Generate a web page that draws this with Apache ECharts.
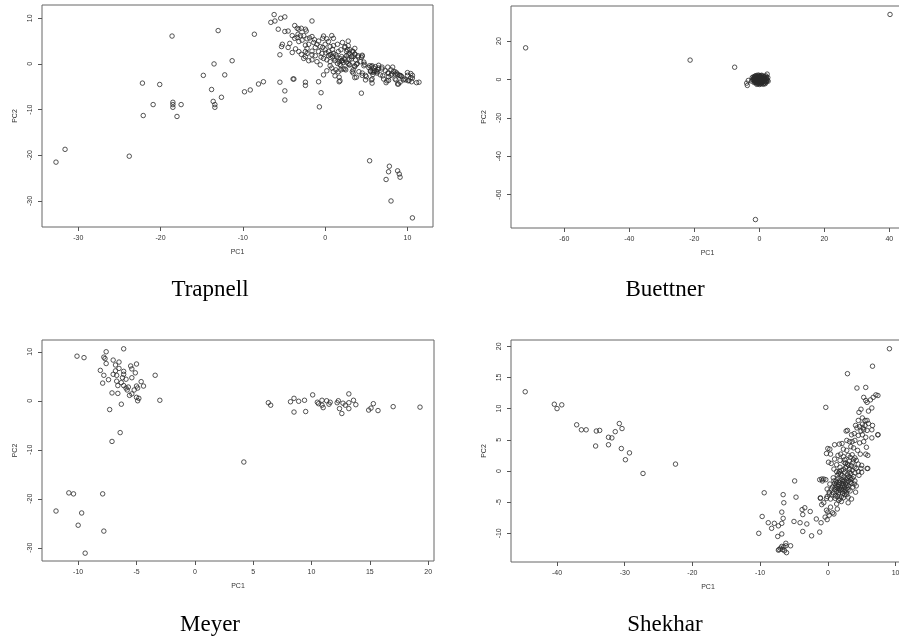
<!DOCTYPE html>
<html>
<head>
<meta charset="utf-8">
<title>PCA of four datasets</title>
<script src="https://cdn.jsdelivr.net/npm/echarts@6/dist/echarts.min.js"></script>
<style>
  html, body { margin: 0; padding: 0; background: #fff; }
  #chart { width: 899px; height: 640px; }
</style>
</head>
<body>
<div id="chart"></div>
<script>
// PC1 / PC2 pairs, one array per dataset
const trapnell = [
  [-32.7,-21.5],[-31.6,-18.7],[-23.8,-20.2],[-18.6,6.1],[-22.2,-4.2],[-20.1,-4.5],[-20.9,-8.9],[-22.1,-11.3],
  [-18.5,-8.4],[-18.5,-8.9],[-18.5,-9.5],[-18.0,-11.5],[-17.5,-8.9],[-14.8,-2.5],[-13.8,-5.6],[-13.5,0.0],
  [-13.0,7.3],[-13.6,-8.2],[-13.4,-8.9],[-13.4,-9.5],[-12.6,-7.3],[-12.2,-2.4],[-11.3,0.7],[-9.8,-6.1],
  [-9.1,-5.7],[-8.6,6.5],[-8.1,-4.4],[-7.5,-3.9],[-5.5,-4.0],[-5.5,2.0],[-4.9,-5.9],[-4.9,-7.9],[-3.9,-3.3],
  [-2.4,-4.7],[-0.5,-6.3],[-0.7,-9.4],[4.4,-6.4],[1.7,-3.9],[1.7,-2.9],
  [5.4,-21.2],[7.8,-22.4],[7.7,-23.6],[7.4,-25.3],[8.8,-23.4],[9.0,-24.1],[9.1,-24.8],[8.0,-30.0],[10.6,-33.7],
  [-6.2,10.8],[-6.6,9.1],[-6.1,9.4],[-5.4,10.0],[-4.9,10.3],[-5.7,7.6],[-1.6,9.4],[-4.9,7.1],[-4.5,7.2],
  [-3.7,8.4],[-3.4,7.8],[-3.2,7.6],[-2.9,7.8],[-2.4,7.6],[-2.3,7.2],[-3.3,6.5],[-3.0,6.2],[-2.6,6.2],[-4.0,6.2],
  [-3.7,5.6],[-3.4,5.8],[-2.8,5.2],[-3.2,4.9],[-2.2,5.5],[-1.9,5.7],[-1.3,5.3],[-0.8,5.0],[-1.0,4.3],[-0.3,5.6],
  [-0.2,6.1],[0.2,5.5],[0.4,4.9],[0.8,6.2],[1.0,5.6],[-1.6,6.0],[-1.4,4.7],[-2.0,4.3],[-2.4,4.1],[-2.2,3.4],
  [-1.2,3.6],[-0.6,3.8],[0.0,4.3],[-5.2,4.3],[-5.3,3.8],[-3.6,3.3],[-3.2,2.7],[-4.0,2.5],[-2.4,2.7],[-2.2,2.3],
  [-1.6,2.0],[-1.2,1.8],[-0.4,2.3],[0.4,2.7],[0.7,2.1],[1.0,2.3],[1.3,2.0],[0.6,2.0],[0.9,1.6],[1.6,2.7],
  [1.9,3.1],[2.4,3.6],[2.8,4.0],[3.3,2.8],[2.0,1.6],[2.3,1.2],[2.8,2.0],[3.2,1.6],[3.6,2.1],[4.0,1.8],[4.5,1.9],
  [-0.2,1.2],[0.2,0.9],[0.6,0.5],[1.2,0.7],[1.5,0.1],[1.8,-0.1],[2.6,0.4],[2.9,-0.2],[3.6,-0.4],[3.8,-0.1],
  [0.6,-0.4],[0.8,-0.9],[1.3,-1.3],[1.0,-1.7],[1.6,-1.7],[2.4,-1.1],[3.4,-2.0],[3.6,-3.0],[4.9,-2.5],[4.5,-2.0],
  [1.2,-2.6],[1.8,-3.7],[-0.8,-3.9],[-2.4,-4.0],[-3.8,-3.3],[-0.2,-2.4],[0.2,-1.5],[-0.6,-0.2],[-1.0,0.5],
  [-1.6,0.9],[-2.0,0.7],[-2.6,1.2],[-2.9,2.1],[-4.3,4.5],[-4.5,3.6],[-2.4,1.6],[-1.6,2.8],[-0.8,2.7],[0.0,3.1],
  [-0.3,3.6],[0.6,3.8],[1.0,4.0],[1.5,4.3],[2.1,4.7],[2.8,5.0],[3.6,3.4],[1.8,1.2],[2.1,0.7],[2.4,0.9],
  [3.2,1.1],[2.6,2.7],[3.0,3.1],[4.3,0.5],[4.7,-0.4],[5.3,-0.8],[5.7,-0.4],[6.1,-0.6],[6.5,-0.9],[6.9,-1.1],
  [5.5,-1.7],[5.9,-1.8],[6.3,-2.0],[6.7,-2.4],[7.3,-1.5],[7.6,-2.0],[8.0,-1.3],[8.3,-1.7],[8.7,-2.0],[9.0,-2.5],
  [9.3,-2.8],[9.6,-3.3],[10.0,-2.5],[10.4,-3.0],[10.1,-3.7],[10.5,-3.9],[11.1,-4.1],[11.4,-4.0],[7.1,-3.3],
  [7.5,-3.7],[5.7,-3.3],[5.7,-4.2],[7.7,-2.8],[8.6,-3.5],[8.8,-4.4],[9.1,-4.0],[4.9,-3.5],
  [10.4,-2.1],[10.6,-2.5],[10.6,-3.1],[10.0,-1.9],[10.2,-3.6],[9.8,-3.5],[9.5,-3.5],[9.1,-2.5],[9.2,-2.6],
  [8.9,-4.4],[8.5,-3.3],[8.5,-1.7],[8.2,-0.7],[8.5,-2.2],[8.1,-2.2],[8.8,-2.3],[8.0,-2.5],[7.6,-0.7],[7.7,-2.0],
  [7.7,-3.6],[7.4,-4.1],[6.9,-0.7],[7.0,-2.6],[6.5,-0.3],[6.4,-1.2],[6.2,-1.5],[6.3,-1.7],[5.9,-0.9],[6.0,-1.5],
  [5.7,-1.8],[5.8,-2.3],[5.4,-0.4],[5.6,-0.6],[5.5,-1.5],[5.6,-3.5],[5.0,-2.8],[4.7,0.4],[4.8,-0.1],[4.5,1.7],
  [4.4,1.4],[4.5,-2.5],[4.1,-1.7],[3.8,-2.9],[3.9,0.1],[3.6,-0.6],[3.4,1.6],[3.6,2.2],[3.7,0.9],[4.0,1.5],
  [3.3,-1.7],[3.4,-1.3],[3.0,-0.2],[2.8,0.1],[2.9,0.9],[2.6,1.8],[2.9,2.3],[2.7,3.1],[2.4,3.8],[2.2,0.3],
  [2.0,0.7],[1.9,-0.4],[2.2,-1.1],[1.9,-1.3],[2.5,-1.3],[3.4,2.7],[0.4,1.8],[0.1,2.4],[1.1,1.1],[1.4,1.5],
  [-0.5,1.5],[0.9,3.2],[1.7,0.5]
];

const buettner = [
  [-71.9,16.5],[-21.3,10.1],[-7.6,6.4],[40.2,33.9],[-1.2,-73.0],[-3.7,-3.1],[-3.9,-1.9],[-3.4,-0.5],
  [-1.8,0.4],[-1.5,1.2],[-1.2,1.9],[-0.8,2.1],[-0.3,2.3],[0.2,2.0],[0.7,2.2],[1.1,1.8],[1.6,1.5],[2.0,1.9],
  [2.4,2.8],[2.6,1.0],[2.3,0.2],[2.7,-0.9],[2.1,-1.4],[1.8,-2.2],[1.2,-2.5],[0.6,-2.1],[0.1,-2.6],[-0.4,-2.3],
  [-0.9,-1.9],[-1.4,-1.2],[-1.7,-0.5],[-2.0,-0.1],[-1.3,0.3],[-1.0,0.9],[-0.6,1.4],[-0.2,1.1],[0.3,1.5],
  [0.8,1.1],[1.3,0.9],[1.7,0.5],[1.9,-0.3],[1.5,-0.8],[1.0,-1.3],[0.5,-1.1],[0.0,-1.5],[-0.5,-1.0],[-0.9,-0.6],
  [-1.1,0.0],[-0.7,0.4],[-0.3,0.6],[0.2,0.3],[0.6,0.5],[1.0,0.2],[1.3,-0.2],[0.9,-0.6],[0.4,-0.4],[-0.1,-0.7],
  [-0.4,-0.2],[-0.2,0.0],[0.3,-0.1],[0.7,-0.1],[1.1,-0.9],[-0.6,-1.5],[-1.2,-0.9],[-1.6,0.8],[-1.9,1.3],
  [-1.4,1.6],[-0.1,1.8],[0.5,1.9],[1.4,1.3],[2.2,1.2],[2.0,0.6],[2.5,-0.4],[2.2,-0.8],[1.6,-1.6],[0.8,-1.8],
  [0.3,-2.2],[-0.3,-1.9],[-1.1,-1.5],[-1.6,-1.6],[-0.8,-2.5],[1.4,-2.0],[-1.5,-0.1],[0.0,0.8],[0.9,0.7],
  [1.6,0.0],[-0.5,0.9],[-0.9,1.5],[0.1,-1.1],[0.6,-1.5],[1.9,-1.1],[-1.3,-0.4],[0.4,0.9],[1.2,0.4],[-0.2,-0.4],
  [0.8,0.3],[-2.2,0.9],[-2.4,-0.8],
  [0.0,0.2],[0.1,-0.3],[0.5,0.1],[-0.3,0.3],[0.3,0.6],[0.8,-0.3],[-0.6,0.0],[0.4,-0.8],[-0.1,0.5],[0.7,0.8],
  [-0.4,-0.6],[1.1,0.0],[0.2,-0.6],[-0.8,0.2],[0.6,-0.7],[1.0,0.6],[-0.2,-1.0],[0.9,-1.0],[-0.7,-0.3],[0.1,1.0],
  [-0.5,0.5],[0.5,-0.2],[1.4,0.5],[-1.0,-0.3],[0.3,0.0]
];

const meyer = [
  [-10.1,9.1],[-9.5,8.8],[-7.6,10.0],[-7.8,8.9],[-7.7,8.6],[-6.1,10.6],[-8.1,6.2],[-7.0,8.3],[-6.5,7.9],
  [-7.6,7.6],[-6.8,7.3],[-5.0,7.5],[-5.5,7.1],[-5.4,6.5],[-6.5,6.6],[-6.8,6.1],[-6.1,6.0],[-6.1,5.4],[-7.8,5.2],
  [-7.0,5.4],[-6.7,5.2],[-3.4,5.2],[-5.1,5.7],[-5.4,4.7],[-6.2,4.7],[-7.4,4.3],[-5.9,4.4],[-6.7,4.0],[-7.9,3.6],
  [-6.3,3.7],[-4.6,3.9],[-6.6,3.1],[-6.1,3.1],[-5.9,2.6],[-5.7,2.8],[-5.0,3.0],[-4.9,2.6],[-5.2,2.2],[-4.4,3.0],
  [-5.8,2.2],[-7.1,1.6],[-6.6,1.5],[-5.4,1.4],[-5.6,1.1],[-5.0,0.7],[-4.8,0.5],[-4.9,0.0],[-3.0,0.1],[-6.3,-0.7],
  [-7.3,-1.8],[-6.4,-6.5],[-7.1,-8.3],
  [-10.8,-18.8],[-10.4,-19.0],[-7.9,-19.0],[-11.9,-22.5],[-9.7,-22.9],[-10.0,-25.4],[-7.8,-26.6],[-9.4,-31.1],
  [4.2,-12.5],
  [6.3,-0.4],[6.5,-0.9],[8.2,-0.2],[8.5,0.5],[8.9,-0.1],[9.4,0.1],[8.5,-2.3],[9.5,-2.2],[10.1,1.2],[10.5,-0.3],
  [10.6,-0.6],[10.9,0.1],[10.9,-0.9],[11.0,-1.4],[11.3,0.0],[11.5,-0.7],[11.6,-0.3],[12.2,-0.4],[12.3,0.0],
  [12.4,-1.6],[12.7,-0.5],[12.6,-2.6],[12.9,-0.9],[13.2,1.4],[13.2,-0.4],[13.2,-1.6],[13.6,0.1],[13.8,-0.8],
  [14.9,-1.9],[15.1,-1.5],[15.3,-0.6],[15.7,-2.0],[17.0,-1.2],[19.3,-1.3]
];

const shekhar = [
  [-44.7,12.7],[-40.4,10.7],[-40.0,10.0],[-39.3,10.6],[-37.1,7.4],[-36.4,6.6],[-35.7,6.6],[-34.2,6.4],
  [-33.7,6.5],[-34.3,4.0],[-32.4,5.4],[-31.9,5.3],[-31.4,6.3],[-32.4,4.2],[-30.8,7.6],[-30.4,6.8],[-30.5,3.6],
  [-29.3,2.9],[-29.9,1.8],[-27.3,-0.4],[-22.5,1.1],
  [-9.4,-3.5],[-10.2,-10.0],[-9.7,-7.3],[-8.8,-8.3],[-8.3,-9.2],[-7.9,-8.4],[-7.3,-8.8],[-7.4,-10.5],
  [-6.8,-10.1],[-6.8,-6.6],[-6.6,-3.8],[-6.5,-5.1],[-6.6,-7.6],[-6.8,-8.4],[-4.9,-1.6],[-4.7,-4.2],[-5.0,-8.1],
  [-4.1,-8.3],[-3.8,-6.2],[-3.4,-5.9],[-3.7,-7.0],[-3.7,-9.7],[-3.1,-8.5],[-2.6,-6.5],[-2.4,-10.4],[-1.7,-7.7],
  [-1.2,-9.8],[-1.0,-8.3],[-1.1,-4.4],[-0.9,-5.4],[-0.6,-5.1],[-0.4,-7.4],[-0.1,-7.8],[-0.2,-6.3],[0.0,-6.6],
  [0.2,-7.1],[0.4,-5.8],[0.7,-6.7],[0.9,-6.9],[-0.8,-1.6],[-0.3,-1.4],[0.2,-3.7],[-0.1,-4.1],[1.4,-6.1],
  [1.3,-5.3],[1.6,-4.7],[2.0,-4.9],[3.0,-5.1],
  [-7.2,-12.6],[-7.0,-12.4],[-6.8,-12.1],[-6.5,-12.2],[-6.2,-12.0],[-6.4,-12.8],[-6.1,-13.1],[-5.5,-12.0],
  [-6.2,-11.6],[-6.7,-12.6],[-7.3,-12.7],
  [9.1,19.6],[6.6,16.8],[2.9,15.6],[4.3,13.3],[-0.3,10.2],[7.1,12.2],[7.4,12.1],[6.7,11.8],[6.3,11.4],
  [5.8,11.0],[5.3,11.8],[5.6,11.3],[4.9,9.9],[4.6,9.4],[6.5,10.1],[6.0,9.6],[5.1,8.5],[5.5,8.1],[5.8,8.1],
  [4.5,8.1],[5.1,7.5],[5.5,7.3],[6.0,7.6],[4.7,7.1],[5.2,6.9],[6.6,7.3],[4.1,7.3],[4.3,6.9],[4.9,6.4],[5.3,6.6],
  [5.8,6.5],[6.5,6.6],[2.9,6.5],[3.5,5.8],[3.9,6.0],[4.5,5.7],[5.1,5.8],[5.6,5.4],[6.5,5.3],[7.4,5.8],[2.8,4.9],
  [3.2,4.7],[3.6,4.7],[4.0,4.9],[4.7,4.5],[5.3,4.7],[5.7,3.8],[1.0,4.2],[1.7,4.3],[2.1,4.4],[0.0,3.6],[0.4,2.7],
  [2.3,3.5],[2.8,3.3],[3.4,3.9],[3.8,3.7],[4.4,3.3],[4.8,2.7],[5.6,2.7],[5.9,2.5],[3.0,2.5],[3.3,2.2],[3.6,2.6],
  [4.0,2.1],[2.3,2.3],[1.8,1.7],[2.5,1.8],[3.2,1.6],[3.7,1.4],[4.5,1.1],[5.0,0.9],[5.8,0.4],[1.3,1.0],[0.9,0.3],
  [1.3,-0.1],[1.8,0.6],[2.3,0.2],[2.8,0.7],[3.2,0.3],[3.6,0.1],[4.0,-0.3],[4.5,-0.1],[4.6,-0.7],[1.4,-0.7],
  [1.9,-0.5],[2.4,-1.0],[2.9,-0.5],[3.3,-1.1],[3.8,-0.9],[0.8,-1.1],[1.2,-1.6],[1.7,-1.8],[2.2,-1.7],[2.6,-2.1],
  [3.0,-1.6],[3.5,-2.0],[4.0,-1.6],[4.2,-2.4],[0.3,-2.1],[0.7,-2.6],[1.0,-3.0],[1.5,-2.5],[2.0,-2.9],[2.4,-3.3],
  [2.9,-2.7],[3.3,-3.2],[3.7,-2.6],[0.2,-3.4],[0.6,-3.8],[1.1,-4.0],[1.6,-3.7],[2.0,-4.1],[2.5,-3.8],[3.0,-4.2],
  [-0.1,-2.9],[-0.6,-1.3],[-1.2,-1.4],[-0.9,-1.3],[-1.1,-4.3],[-0.2,-4.4],[0.4,-4.5],[1.1,-4.4],[1.8,-4.5],
  [2.3,-4.3],[-0.2,2.8],[0.1,1.4],[0.5,1.2],[1.0,1.9],[1.5,2.5],[1.9,2.7],[4.2,1.7],[5.0,-0.2],[4.1,-3.4],
  [3.5,-4.5],[5.6,13.4],[2.7,6.4],[0.3,3.5],[4.9,0.4],[5.9,0.4],[7.4,5.8],
  [1.5,-1.2],[2.1,-1.4],[2.7,-1.3],[3.1,-0.9],[1.6,-2.2],[2.2,-2.4],[2.8,-2.3],[3.3,-1.8],[1.3,-3.3],[1.8,-3.1],
  [2.6,-3.0],[1.2,-2.3],[2.5,-0.2],[2.0,0.1],[3.4,-0.4],[2.9,1.1],[3.5,0.8],[2.4,1.4],[1.7,-0.1],[3.9,0.6],
  [1.4,-2.8],[1.9,-2.6],[2.3,-2.1],[2.7,-1.8],[3.1,-2.4],[3.4,-1.4],[1.0,-2.0],[1.6,-3.4],[2.2,-3.6],[2.7,-3.5],
  [1.3,-1.9],[1.8,-1.5],[2.4,-1.6],[2.9,-1.1],[3.2,-0.2],[2.6,0.5],[2.1,-0.7],[1.6,-0.4],[0.9,-1.6],[0.5,-2.9],
  [0.8,-3.5],[1.4,-4.1],[2.8,-3.8],[3.6,-1.2],[3.1,0.9],[2.6,1.2],[3.8,1.8],[4.2,0.4],[3.9,-2.1],[1.1,-2.6],
  [2.0,-2.0],[2.5,-2.6],[3.0,-3.0],[1.7,-2.9],[2.2,-3.0]
];

const trapnellXTicks = [-30, -20, -10, 0, 10];
const trapnellYTicks = [-30, -20, -10, 0, 10];
const buettnerXTicks = [-60, -40, -20, 0, 20, 40];
const buettnerYTicks = [-60, -40, -20, 0, 20];
const meyerXTicks = [-10, -5, 0, 5, 10, 15, 20];
const meyerYTicks = [-30, -20, -10, 0, 10];
const shekharXTicks = [-40, -30, -20, -10, 0, 10];
const shekharYTicks = [-10, -5, 0, 5, 10, 15, 20];

const panelNames = ["Trapnell", "Buettner", "Meyer", "Shekhar"];

const chart = echarts.init(document.getElementById("chart"), null, { renderer: "canvas" });

const tickFont = {
  color: "#333",
  fontSize: 7,
  fontFamily: "Liberation Sans, Arial, sans-serif",
};

function makeX(idx, min, max, ticks) {
  return {
    type: "value",
    gridIndex: idx,
    position: "bottom",
    min: min,
    max: max,
    name: "PC1",
    nameLocation: "middle",
    nameGap: 22,
    nameTextStyle: tickFont,
    axisLine: { show: false, onZero: false },
    splitLine: { show: false },
    axisTick: {
      show: true,
      length: 4,
      customValues: ticks,
      lineStyle: { color: "#555", width: 1 },
    },
    axisLabel: Object.assign({ margin: 8, customValues: ticks }, tickFont),
  };
}

function makeY(idx, min, max, ticks) {
  return {
    type: "value",
    gridIndex: idx,
    position: "left",
    min: min,
    max: max,
    name: "PC2",
    nameLocation: "middle",
    nameGap: 23,
    nameTextStyle: tickFont,
    axisLine: { show: false, onZero: false },
    splitLine: { show: false },
    axisTick: {
      show: true,
      length: 4,
      customValues: ticks,
      lineStyle: { color: "#555", width: 1 },
    },
    axisLabel: Object.assign({ margin: 8, rotate: 90, customValues: ticks }, tickFont),
  };
}

function makeGrid(left, top, width, height) {
  return {
    left: left,
    top: top,
    width: width,
    height: height,
    show: true,
    borderColor: "#666",
    borderWidth: 1,
    backgroundColor: "transparent",
    containLabel: false,
    outerBoundsMode: "none",
  };
}

function makeSeries(idx, data) {
  return {
    type: "scatter",
    xAxisIndex: idx,
    yAxisIndex: idx,
    data: data,
    symbol: "circle",
    symbolSize: 4.5,
    silent: true,
    itemStyle: {
      color: "rgba(0,0,0,0)",
      borderColor: "#2a2a2a",
      borderWidth: 0.8,
      opacity: 1,
    },
  };
}

const option = {
  animation: false,
  backgroundColor: "#fff",
  grid: [
    makeGrid(42, 5, 391, 222),
    makeGrid(511, 6, 393, 222),
    makeGrid(42, 340, 392, 221),
    makeGrid(511, 340, 394, 222),
  ],
  xAxis: [
    makeX(0, -34.4, 13.1, trapnellXTicks),
    makeX(1, -76.4, 44.5, buettnerXTicks),
    makeX(2, -13.1, 20.5, meyerXTicks),
    makeX(3, -46.8, 11.4, shekharXTicks),
  ],
  yAxis: [
    makeY(0, -35.7, 12.9, trapnellYTicks),
    makeY(1, -77.4, 38.3, buettnerYTicks),
    makeY(2, -32.7, 12.4, meyerYTicks),
    makeY(3, -14.6, 21.0, shekharYTicks),
  ],
  series: [
    makeSeries(0, trapnell),
    makeSeries(1, buettner),
    makeSeries(2, meyer),
    makeSeries(3, shekhar),
  ],
  graphic: [
    { x: 210, y: 290 },
    { x: 665, y: 290 },
    { x: 210, y: 625 },
    { x: 665, y: 625 },
  ].map((pos, i) => ({
    type: "text",
    x: pos.x,
    y: pos.y,
    silent: true,
    style: {
      text: panelNames[i],
      fill: "#000",
      font: '23px "Liberation Serif", "Times New Roman", serif',
      textAlign: "center",
      textVerticalAlign: "middle",
    },
  })),
};

chart.setOption(option);
</script>
</body>
</html>
